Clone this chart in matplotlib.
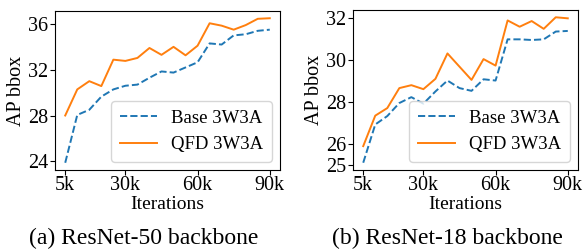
import matplotlib.pyplot as plt

plt.rcParams['font.family'] = ['Liberation Serif', 'DejaVu Serif']
plt.rcParams['font.size'] = 14.5

# iterations in thousands
iters = [5, 10, 15, 20, 25, 30, 35, 40, 45, 50, 55, 60, 65, 70, 75, 80, 85, 90]

# ResNet-50 backbone
base_r50 = [23.87, 28.05, 28.5, 29.65, 30.28, 30.6, 30.7, 31.3, 31.85, 31.75,
            32.2, 32.65, 34.3, 34.2, 35.0, 35.1, 35.4, 35.5]
qfd_r50 = [28.0, 30.28, 31.0, 30.57, 32.88, 32.77, 33.03, 33.9, 33.3, 34.0,
           33.26, 34.1, 36.06, 35.85, 35.5, 35.9, 36.45, 36.5]

# ResNet-18 backbone
base_r18 = [25.13, 26.95, 27.35, 27.97, 28.25, 27.94, 28.52, 29.04, 28.68, 28.55,
            29.1, 29.04, 31.0, 31.0, 30.97, 31.0, 31.37, 31.4]
qfd_r18 = [25.92, 27.37, 27.73, 28.68, 28.82, 28.63, 29.12, 30.33, 29.7, 29.07,
           30.06, 29.75, 31.9, 31.6, 31.87, 31.5, 32.05, 32.0]

xticks = [5, 30, 60, 90]
xticklabels = ['5k', '30k', '60k', '90k']
yticks_r50 = [24, 28, 32, 36]
yticks_r18 = [25, 26, 28, 30, 32]
captions = ['(a) ResNet-50 backbone', '(b) ResNet-18 backbone']
caption_x = [144 / 584, 447 / 584]

fig = plt.figure(figsize=(5.84, 2.5), dpi=100)
ax1 = fig.add_axes([55 / 584, 80 / 250, 225 / 584, 159 / 250])
ax2 = fig.add_axes([353 / 584, 80 / 250, 225 / 584, 160 / 250])

panels = [(ax1, base_r50, qfd_r50, yticks_r50),
          (ax2, base_r18, qfd_r18, yticks_r18)]

for i, (ax, base, qfd, yt) in enumerate(panels):
    ax.plot(iters, base, '--', color='tab:blue', lw=1.4, label='Base 3W3A')
    ax.plot(iters, qfd, '-', color='tab:orange', lw=1.4, label='QFD 3W3A')
    ax.set_xticks(xticks)
    ax.set_xticklabels(xticklabels)
    ax.set_yticks(yt)
    ax.set_xlabel('Iterations', fontsize=14, labelpad=1)
    ax.set_ylabel('AP bbox', fontsize=14.5, labelpad=1)
    ax.tick_params(axis='x', pad=0.8)
    ax.tick_params(axis='y', pad=1.5)
    ax.legend(loc='lower right', fontsize=13.5, handlelength=2.0,
              handletextpad=0.75, borderaxespad=0.43, labelspacing=0.5,
              borderpad=0.45)
    fig.text(caption_x[i], 0.024, captions[i], ha='center', va='baseline',
             fontsize=17)

fig.savefig('out.png', dpi=100)
